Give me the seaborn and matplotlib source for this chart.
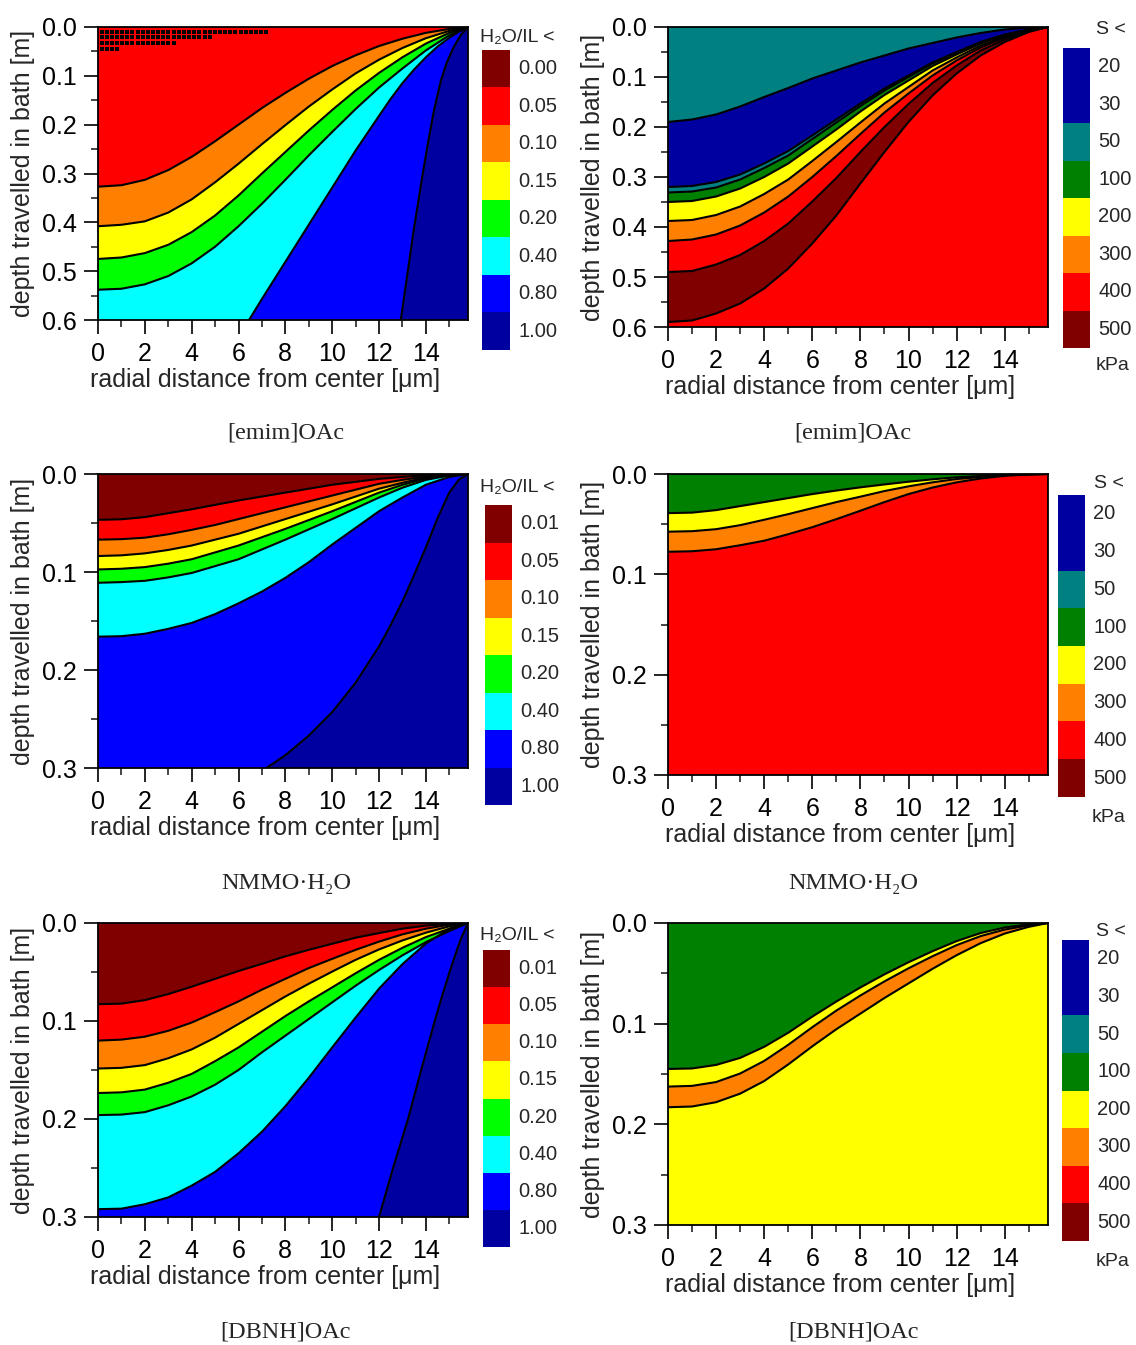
import numpy as np
import seaborn as sns
import matplotlib.pyplot as plt
from matplotlib.ticker import MultipleLocator

sns.set_style("ticks")
plt.rcParams['font.family'] = ['Liberation Sans', 'DejaVu Sans']

# band colours
DARKRED = '#800000'
RED = '#ff0000'
ORANGE = '#ff8000'
YELLOW = '#ffff00'
GREEN = '#00ff00'
CYAN = '#00ffff'
BLUE = '#0000ff'
NAVY = '#0000a0'
TEAL = '#008080'
DGREEN = '#008000'

# radial positions [um] where the contour depths were read
r = [0, 1, 2, 3, 4, 5, 6, 7, 8, 9, 10, 11, 12, 13, 14, 15, 15.8]

# ---- [emim]OAc, H2O/IL ----
emim_w1 = [.327, .324, .313, .293, .266, .234, .200, .166, .135, .106, .080, .058, .039, .024, .012, .004, 0]
emim_w2 = [.408, .405, .398, .380, .353, .318, .280, .240, .201, .163, .128, .095, .067, .043, .023, .008, 0]
emim_w3 = [.475, .472, .463, .446, .420, .386, .345, .300, .256, .212, .170, .130, .094, .062, .034, .012, 0]
emim_w4 = [.538, .536, .527, .510, .484, .450, .408, .362, .313, .263, .215, .168, .124, .085, .048, .017, 0]
emim_w5_r = [6.45, 7, 8, 9, 10, 11, 12, 12.5, 13, 13.5, 14, 14.5, 15, 15.4, 15.8]
emim_w5 = [.6, .557, .481, .405, .329, .253, .182, .147, .115, .087, .062, .040, .022, .010, 0]
emim_w6_r = [12.93, 13.2, 13.5, 13.87, 14.1, 14.35, 14.64, 14.9, 15.2, 15.5, 15.8]
emim_w6 = [.6, .51, .41, .3, .235, .17, .11, .072, .04, .016, 0]
# grid artefact near the surface
noise_depth = [0.0096, 0.0211, 0.0334, 0.0457]
noise_rend = [7.3, 4.9, 3.3, 1.0]

# ---- [emim]OAc, S ----
emim_s1 = [.19, .185, .175, .159, .14, .122, .103, .087, .071, .057, .043, .032, .021, .012, .005, .001, 0]
emim_s2 = [.32, .318, .31, .295, .273, .248, .217, .185, .153, .123, .097, .071, .05, .03, .015, .005, 0]
emim_s3 = [.331, .329, .321, .305, .282, .257, .224, .191, .158, .127, .100, .073, .052, .031, .016, .005, 0]
emim_s4 = [.35, .348, .339, .323, .300, .273, .239, .205, .169, .136, .107, .078, .055, .033, .016, .006, 0]
emim_s5 = [.388, .386, .376, .359, .334, .305, .268, .230, .191, .153, .120, .087, .061, .037, .019, .006, 0]
emim_s6 = [.428, .425, .415, .397, .371, .339, .300, .258, .214, .171, .133, .097, .067, .041, .021, .007, 0]
emim_s7 = [.49, .488, .475, .456, .428, .393, .349, .302, .250, .200, .154, .112, .077, .047, .025, .008, 0]
emim_s8 = [.59, .587, .573, .553, .523, .483, .433, .377, .313, .250, .190, .137, .093, .057, .030, .010, 0]

# ---- NMMO.H2O, H2O/IL ----
nmmo_w1 = [.0468, .0462, .044, .040, .036, .0315, .027, .023, .019, .015, .011, .008, .005, .003, .0012, .0003, 0]
nmmo_w2 = [.067, .0665, .065, .0615, .057, .052, .046, .040, .034, .028, .022, .016, .010, .006, .0025, .0007, 0]
nmmo_w3 = [.0837, .083, .081, .0775, .073, .067, .061, .0535, .046, .0385, .031, .023, .015, .009, .0035, .001, 0]
nmmo_w4 = [.0974, .0967, .095, .0915, .087, .080, .073, .0645, .056, .047, .038, .0285, .019, .011, .0045, .0012, 0]
nmmo_w5 = [.111, .1103, .109, .1055, .101, .094, .087, .077, .067, .0565, .046, .035, .024, .014, .006, .0015, 0]
nmmo_w6 = [.166, .1655, .163, .158, .152, .143, .132, .12, .106, .09, .072, .055, .038, .024, .011, .003, 0]
nmmo_w7_r = [7.19, 8, 9, 10, 11, 12, 12.5, 13, 13.5, 14, 14.5, 15, 15.4, 15.8]
nmmo_w7 = [.3, .287, .267, .243, .213, .176, .154, .130, .103, .075, .045, .019, .006, 0]

# ---- NMMO.H2O, S ----
nmmo_s1 = [.039, .0385, .036, .032, .028, .024, .020, .0165, .0133, .0104, .0077, .0053, .0033, .002, .001, .0003, 0]
nmmo_s2 = [.0575, .057, .055, .051, .0456, .040, .034, .028, .0226, .017, .0123, .0083, .005, .003, .0012, .0004, 0]
nmmo_s3 = [.0775, .077, .075, .071, .0665, .060, .053, .045, .0366, .028, .020, .0135, .0083, .0045, .0018, .0005, 0]

# ---- [DBNH]OAc, H2O/IL ----
dbnh_w1 = [.0828, .0823, .0787, .0725, .065, .057, .049, .0417, .034, .0274, .0212, .015, .0103, .0058, .0027, .0007, 0]
dbnh_w2 = [.120, .119, .116, .110, .1016, .091, .080, .068, .057, .046, .0366, .0274, .019, .0116, .0058, .0017, 0]
dbnh_w3 = [.1485, .1478, .145, .138, .129, .117, .103, .089, .075, .062, .0496, .0376, .027, .0178, .0099, .0034, 0]
dbnh_w4 = [.1735, .1728, .170, .163, .154, .141, .127, .111, .095, .080, .0657, .0513, .0376, .0253, .0144, .0058, 0]
dbnh_w5 = [.196, .1955, .193, .186, .177, .165, .150, .132, .115, .098, .081, .064, .048, .033, .0195, .0082, 0]
dbnh_w6 = [.292, .2915, .287, .280, .268, .254, .235, .213, .187, .158, .127, .0965, .067, .042, .021, .006, 0]
dbnh_w7_r = [12.0, 12.6, 13.24, 13.8, 14.38, 14.7, 15.0, 15.25, 15.5, 15.8]
dbnh_w7 = [.3, .25, .2, .15, .1, .074, .051, .033, .016, 0]

# ---- [DBNH]OAc, S ----
dbnh_s1 = [.145, .1445, .141, .134, .123, .109, .093, .078, .064, .051, .039, .028, .018, .010, .0045, .0013, 0]
dbnh_s2 = [.1625, .1618, .158, .1495, .137, .121, .1035, .087, .072, .058, .045, .033, .022, .013, .0065, .0023, 0]
dbnh_s3 = [.183, .1823, .178, .1695, .157, .1405, .1225, .1055, .090, .0745, .060, .0455, .032, .020, .0105, .0038, 0]

# legends
wil_labels_a = ["0.00", "0.05", "0.10", "0.15", "0.20", "0.40", "0.80", "1.00"]
wil_labels_b = ["0.01", "0.05", "0.10", "0.15", "0.20", "0.40", "0.80", "1.00"]
wil_colours = [DARKRED, RED, ORANGE, YELLOW, GREEN, CYAN, BLUE, NAVY]
s_labels = ["20", "30", "50", "100", "200", "300", "400", "500"]
s_colours = [NAVY, NAVY, TEAL, DGREEN, YELLOW, ORANGE, RED, DARKRED]

W, H = 1136, 1345
fig = plt.figure(figsize=(W / 100, H / 100), dpi=100)


def rect(l, t, rr, b):
    return [l / W, 1 - b / H, (rr - l) / W, (b - t) / H]


def draw_panel(box, top_colour, bands, ymax):
    ax = fig.add_axes(rect(*box))
    ax.set_facecolor(top_colour)
    for xs, ds, colour in bands:
        # region below the contour, closed along the bottom edge
        px = list(xs) + [xs[-1], xs[0]]
        py = list(ds) + [ymax, ymax]
        ax.fill(px, py, color=colour, lw=0, zorder=1)
    for xs, ds, colour in bands:
        sns.lineplot(x=xs, y=ds, ax=ax, color='black', lw=1.5, sort=False,
                     estimator=None, zorder=3)
    ax.set_xlim(0, 15.8)
    ax.set_ylim(ymax, 0)
    ax.xaxis.set_major_locator(MultipleLocator(2))
    ax.xaxis.set_minor_locator(MultipleLocator(1))
    ax.yaxis.set_major_locator(MultipleLocator(0.1))
    ax.yaxis.set_minor_locator(MultipleLocator(0.05))
    ax.yaxis.set_major_formatter(lambda v, p: f"{v:.1f}")
    ax.tick_params(which='major', length=10, width=1.2, labelsize=18, colors='black')
    ax.tick_params(which='minor', length=5, width=1.2)
    ax.tick_params(axis='x', which='major', pad=6)
    ax.tick_params(axis='y', which='major', pad=5)
    for sp in ax.spines.values():
        sp.set_visible(True)
        sp.set_color('black')
        sp.set_linewidth(1.3)
        sp.set_zorder(5)
    h = box[3] - box[1]
    ax.set_xlabel("radial distance from center [μm]", fontsize=18)
    ax.xaxis.set_label_coords(0.452, -60 / h)
    ax.xaxis.label.set_verticalalignment('center')
    ax.set_ylabel("depth travelled in bath [m]", fontsize=18, labelpad=5)
    return ax


def draw_key(box, labels, colours, title, title_xy, unit_xy=None):
    kx = fig.add_axes(rect(*box))
    kx.barh(range(len(labels)), 1, height=1.0, color=colours, lw=0)
    kx.set_xlim(0, 1)
    kx.set_ylim(len(labels) - 0.5, -0.5)
    kx.axis('off')
    for i, lab in enumerate(labels):
        kx.text(1.3, i, lab, transform=kx.get_yaxis_transform(), va='center',
                ha='left', fontsize=14.5)
    fig.text(title_xy[0] / W, 1 - title_xy[1] / H, title, fontsize=14,
             ha='left', va='center')
    if unit_xy is not None:
        fig.text(unit_xy[0] / W, 1 - unit_xy[1] / H, "kPa", fontsize=14,
                 ha='left', va='center')


def caption(xy, text):
    fig.text(xy[0] / W, 1 - xy[1] / H, text, fontsize=17.5, ha='center', va='center',
             family=['Liberation Serif', 'DejaVu Serif'])


WIL = "H₂O/IL <"

# [emim]OAc water
ax = draw_panel((98, 27, 468, 320), RED,
                [(r, emim_w1, ORANGE), (r, emim_w2, YELLOW), (r, emim_w3, GREEN),
                 (r, emim_w4, CYAN), (emim_w5_r, emim_w5, BLUE),
                 (emim_w6_r, emim_w6, NAVY)], 0.6)
for dep, rend in zip(noise_depth, noise_rend):
    xs = np.arange(0.15, rend, 0.22)
    ax.scatter(xs, np.full(len(xs), dep), s=6, marker='s', color='black', lw=0, zorder=4)
draw_key((482, 50, 510, 350), wil_labels_a, wil_colours, WIL, (480, 38))
caption((286, 433), "[emim]OAc")

# [emim]OAc stress
draw_panel((668, 27, 1048, 327), TEAL,
           [(r, emim_s1, NAVY), (r, emim_s2, TEAL), (r, emim_s3, DGREEN),
            (r, emim_s4, YELLOW), (r, emim_s5, ORANGE), (r, emim_s6, RED),
            (r, emim_s7, DARKRED), (r, emim_s8, RED)], 0.6)
draw_key((1063, 48, 1090, 348), s_labels, s_colours, "S <", (1096, 29), (1096, 365))
caption((853, 433), "[emim]OAc")

# NMMO water
draw_panel((98, 474, 468, 768), DARKRED,
           [(r, nmmo_w1, RED), (r, nmmo_w2, ORANGE), (r, nmmo_w3, YELLOW),
            (r, nmmo_w4, GREEN), (r, nmmo_w5, CYAN), (r, nmmo_w6, BLUE),
            (nmmo_w7_r, nmmo_w7, NAVY)], 0.3)
draw_key((485, 505, 512, 805), wil_labels_b, wil_colours, WIL, (480, 487))
caption((286, 883), "NMMO·H₂O")

# NMMO stress
draw_panel((668, 474, 1048, 775), DGREEN,
           [(r, nmmo_s1, YELLOW), (r, nmmo_s2, ORANGE), (r, nmmo_s3, RED)], 0.3)
draw_key((1058, 495, 1085, 797), s_labels, s_colours, "S <", (1094, 484), (1092, 817))
caption((853, 883), "NMMO·H₂O")

# [DBNH]OAc water
draw_panel((98, 923, 468, 1217), DARKRED,
           [(r, dbnh_w1, RED), (r, dbnh_w2, ORANGE), (r, dbnh_w3, YELLOW),
            (r, dbnh_w4, GREEN), (r, dbnh_w5, CYAN), (r, dbnh_w6, BLUE),
            (dbnh_w7_r, dbnh_w7, NAVY)], 0.3)
draw_key((483, 950, 510, 1247), wil_labels_b, wil_colours, WIL, (480, 935))
caption((286, 1332), "[DBNH]OAc")

# [DBNH]OAc stress
draw_panel((668, 923, 1048, 1225), DGREEN,
           [(r, dbnh_s1, YELLOW), (r, dbnh_s2, ORANGE), (r, dbnh_s3, YELLOW)], 0.3)
draw_key((1062, 940, 1089, 1241), s_labels, s_colours, "S <", (1096, 932), (1096, 1262))
caption((853, 1332), "[DBNH]OAc")

fig.savefig("out.png", dpi=100)
